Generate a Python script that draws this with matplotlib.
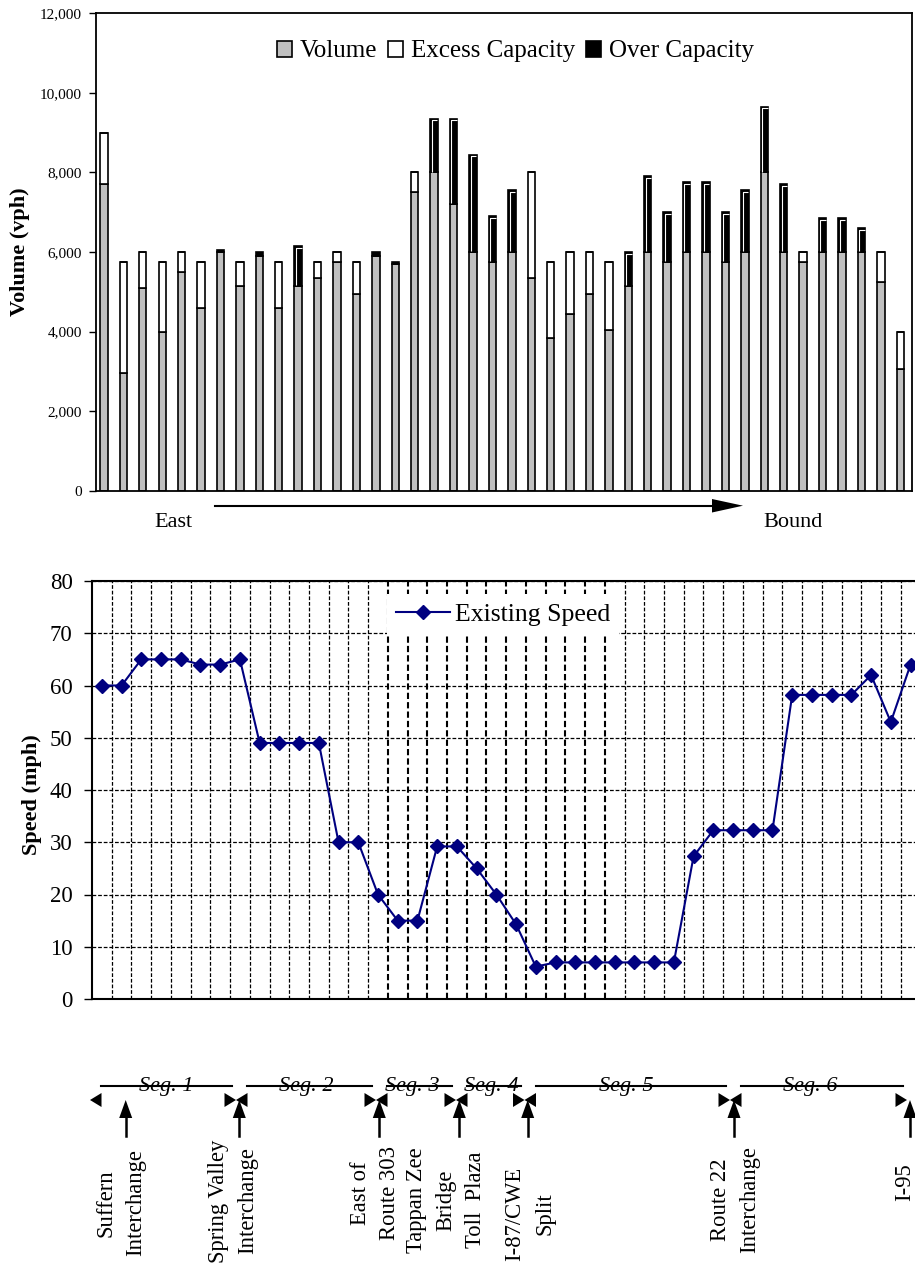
import numpy as np
import matplotlib.pyplot as plt
import matplotlib.transforms as mtransforms
from matplotlib.patches import Patch
from matplotlib.ticker import FuncFormatter, MultipleLocator

plt.rcParams['font.family'] = ['Liberation Serif', 'DejaVu Serif']

# ---- data ----
# top panel: stacked volume / capacity bars, 42 locations eastbound
volume = [7700, 2950, 5100, 4000, 5500, 4600, 6000, 5150, 5900, 4600, 5150, 5350,
          5750, 4950, 5900, 5700, 7500, 8000, 7200, 6000, 5750, 6000, 5350, 3850,
          4450, 4950, 4050, 5150, 6000, 5750, 6000, 6000, 5750, 6000, 8000, 6000,
          5750, 6000, 6000, 6000, 5250, 3050]
excess = [1300, 2800, 900, 1750, 500, 1150, 0, 600, 0, 1150, 0, 400,
          250, 800, 0, 0, 500, 0, 0, 0, 0, 0, 2650, 1900,
          1550, 1050, 1700, 0, 0, 0, 0, 0, 0, 0, 0, 0,
          250, 0, 0, 0, 750, 950]
over = [0, 0, 0, 0, 0, 0, 50, 0, 100, 0, 1000, 0,
        0, 0, 100, 50, 0, 1350, 2150, 2450, 1150, 1550, 0, 0,
        0, 0, 0, 850, 1900, 1250, 1750, 1750, 1250, 1550, 1650, 1700,
        0, 850, 850, 600, 0, 0]
bar_labels = ['Volume', 'Excess Capacity', 'Over Capacity']

# bottom panel: existing speed (mph)
speed = [60, 60, 65, 65, 65, 64, 64, 65, 49, 49, 49, 49, 30, 30, 20, 15, 15,
         29.2, 29.2, 25, 20, 14.3, 6.2, 7, 7, 7, 7, 7, 7, 7, 27.3, 32.3, 32.3,
         32.3, 32.3, 58.2, 58.2, 58.2, 58.2, 62, 53, 64]
speed_label = 'Existing Speed'

# segment / location annotations under the speed panel
seg_names = ['Seg. 1', 'Seg. 2', 'Seg. 3', 'Seg. 4', 'Seg. 5', 'Seg. 6']
locations = ['Suffern\nInterchange', 'Spring Valley\nInterchange', 'East of\nRoute 303',
             'Tappan Zee\nBridge\nToll  Plaza', 'I-87/CWE\nSplit', 'Route 22\nInterchange', 'I-95']

W, H = 915, 1268
fig = plt.figure(figsize=(W / 100, H / 100), dpi=100)


def px_axes(left, top, right, bottom):
    # place an axes by its pixel box (origin top-left)
    return fig.add_axes([left / W, 1 - bottom / H, (right - left) / W, (bottom - top) / H])


# ---------------- top: volume bars ----------------
ax1 = px_axes(96, 13.3, 911.7, 490.7)
x = np.arange(len(volume))
vol = np.array(volume)
exc = np.array(excess)
ovr = np.array(over)
bw = 0.38
ax1.bar(x, vol, bw, color='#c0c0c0', edgecolor='black', linewidth=1.2, zorder=2)
ax1.bar(x, exc, bw, bottom=vol, color='white', edgecolor='black', linewidth=1.2, zorder=2)
over_bars = ax1.bar(x, ovr, bw, bottom=vol + exc, color='black', edgecolor='black',
                    linewidth=1.2, zorder=2)

# little white bevel inside the black bars, like the original
bevel = mtransforms.offset_copy(ax1.transData, fig=fig, x=1.5, y=-1.5, units='dots')
for r in over_bars:
    if r.get_height() > 300:
        x0, y0, w, h = r.get_x(), r.get_y(), r.get_width(), r.get_height()
        ax1.plot([x0, x0, x0 + w * 0.75], [y0 + 60, y0 + h, y0 + h], color='white',
                 lw=0.8, transform=bevel, zorder=3, solid_capstyle='butt')

ax1.set_xlim(-0.41, 41.59)
ax1.set_ylim(0, 12000)
ax1.yaxis.set_major_locator(MultipleLocator(2000))
ax1.yaxis.set_major_formatter(FuncFormatter(lambda v, p: f'{v:,.0f}'))
ax1.set_xticks([])
ax1.tick_params(axis='y', labelsize=11, length=5, width=1, pad=5)
for s in ax1.spines.values():
    s.set_linewidth(1.3)
ax1.set_ylabel('Volume (vph)', fontsize=16, fontweight='bold')
ax1.yaxis.set_label_coords(-0.081, 0.5)

handles = [Patch(facecolor='#c0c0c0', edgecolor='black', linewidth=1.2),
           Patch(facecolor='white', edgecolor='black', linewidth=1.2),
           Patch(facecolor='black', edgecolor='black', linewidth=1.2)]
ax1.legend(handles, bar_labels, loc='center', bbox_to_anchor=(0.514, 0.92), ncol=3,
           frameon=False, fontsize=18, handlelength=0.6, handleheight=0.6,
           handletextpad=0.3, columnspacing=0.45, borderaxespad=0)

# ---------------- bottom: speed line ----------------
ax2 = px_axes(92, 581, 920.4, 999)
ax2.plot(x, speed, color='#000080', lw=1.5, marker='D', ms=7, zorder=4, label=speed_label,
         clip_on=False)
ax2.set_xlim(-0.5, len(speed) - 0.5)
ax2.set_ylim(0, 80)
ax2.yaxis.set_major_locator(MultipleLocator(10))
ax2.set_xticks([])
ax2.tick_params(axis='y', labelsize=16.5, length=6, width=1, pad=8)
ax2.grid(axis='y', color='black', linestyle=(0, (3, 1.5)), linewidth=0.9, zorder=1)
bounds = x[:-1] + 0.5
widths = np.where((bounds > 14) & (bounds < 26), 1.5, 0.9)
ax2.vlines(bounds, 0, 80, colors='black', linestyles=(0, (3, 1.5)), linewidths=widths,
           zorder=1)
for s in ax2.spines.values():
    s.set_linewidth(1.5)
ax2.set_ylabel('Speed (mph)', fontsize=16, fontweight='bold')
ax2.yaxis.set_label_coords(-0.060, 0.49)
leg = ax2.legend(loc='center', bbox_to_anchor=(0.496, 0.919), fontsize=18.5,
                 handlelength=2.1, handletextpad=0.2, borderpad=0.35, fancybox=False,
                 framealpha=1, edgecolor='none', facecolor='white', borderaxespad=0)
leg.set_zorder(6)

# ---------------- annotations (figure pixel space) ----------------
ann = fig.add_axes([0, 0, 1, 1])
ann.set_xlim(0, W)
ann.set_ylim(H, 0)
ann.axis('off')

# East -> Bound arrow
ann.text(173, 527, 'East', ha='center', va='baseline', fontsize=16)
ann.plot([215, 714], [505.7, 505.7], color='black', lw=1.5)
ann.fill([712, 743, 712], [499, 505.7, 512.5], color='black', lw=0)
ann.text(793, 527, 'Bound', ha='center', va='baseline', fontsize=16)

# segments: line, label and end triangles
seg_bounds = [90, 236, 376, 456, 524.5, 730, 907]
seg_text_x = [166, 306, 412.5, 491, 626, 810.5]
ty, th, tw = 1100, 7, 11.5
for i, name in enumerate(seg_names):
    a, b = seg_bounds[i], seg_bounds[i + 1]
    ann.plot([a + 11, b - 4], [1086, 1086], color='black', lw=1.5)
    ann.text(seg_text_x[i], 1091.5, name, ha='center', va='baseline', fontsize=16,
             style='italic')
    ann.fill([a, a + tw, a + tw], [ty, ty - th, ty + th], color='black', lw=0)
    ann.fill([b, b - tw, b - tw], [ty, ty - th, ty + th], color='black', lw=0)

# location arrows and labels
arrow_x = [125.7, 239.3, 379.3, 459.3, 527.7, 734, 910]
label_x = [120.5, 233, 375, 446, 530, 735, 905]
label_y = [1203, 1201, 1193, 1200, 1214, 1200, 1182]
for ax_, lx, ly, txt in zip(arrow_x, label_x, label_y, locations):
    ann.plot([ax_, ax_], [1116, 1136], color='black', lw=1.8)
    ann.fill([ax_ - 6.5, ax_, ax_ + 6.5], [1118, 1100, 1118], color='black', lw=0)
    ann.text(lx, ly, txt, rotation=90, ha='center', va='center', multialignment='center',
             fontsize=16.3, linespacing=1.55)

fig.savefig('out.png', dpi=100)
